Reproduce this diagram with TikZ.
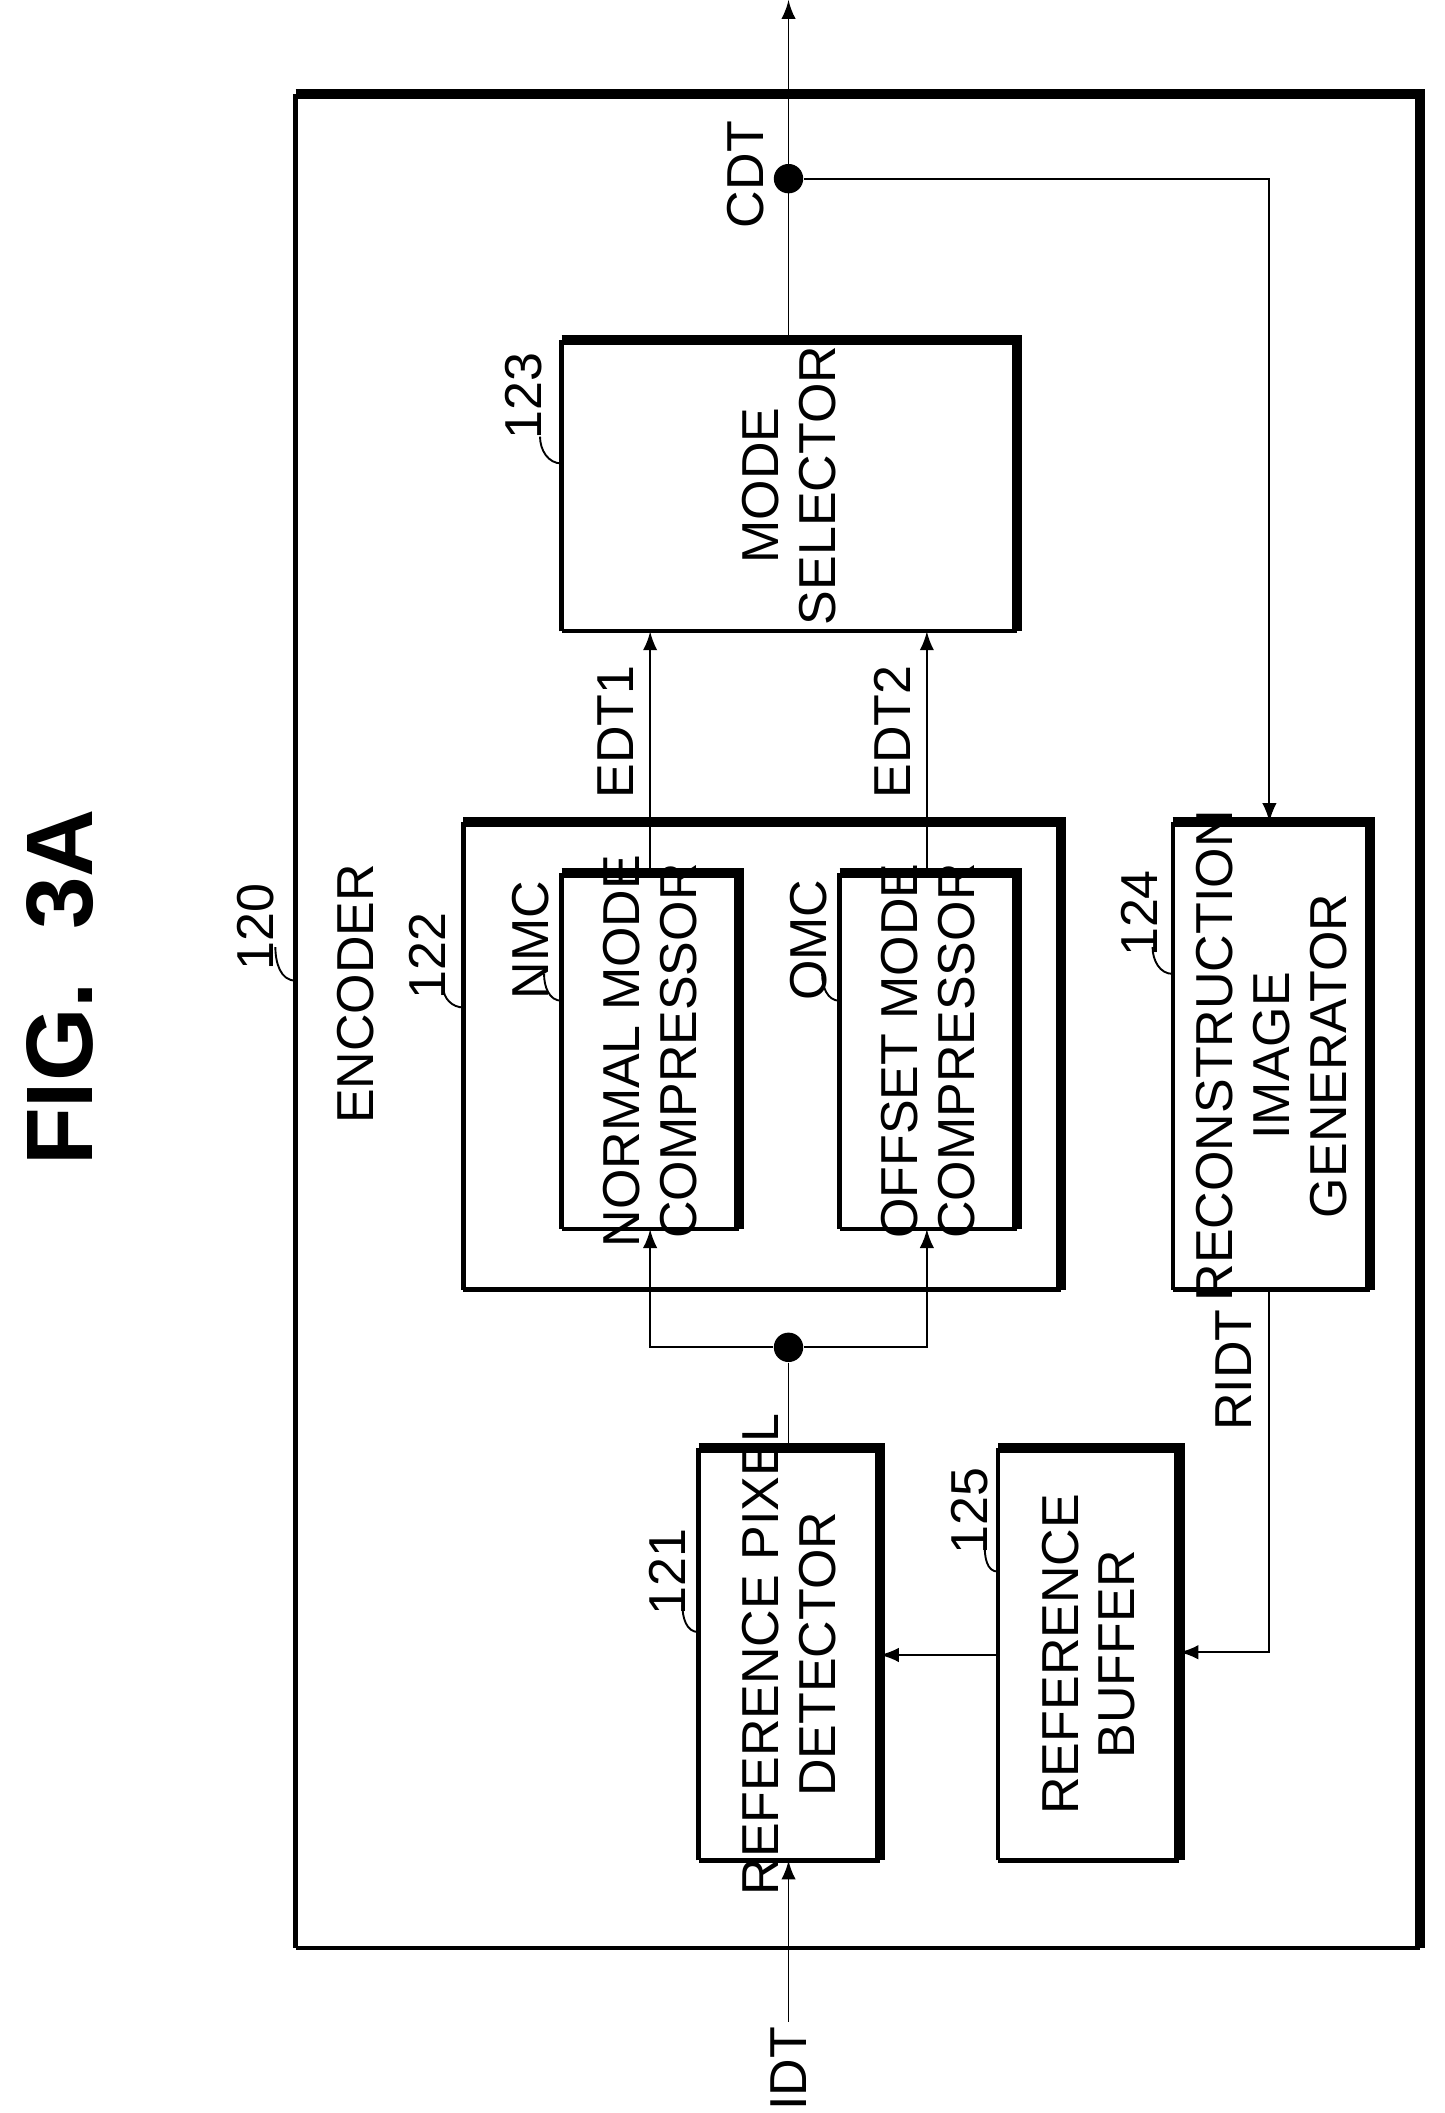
\documentclass[tikz,border=0pt]{standalone}
\usepackage{fontspec}
\setmainfont{Liberation Sans}
\usepackage{tikz}
\usetikzlibrary{arrows}
\begin{document}
\begin{tikzpicture}[x=0.01cm,y=-0.01cm,>=latex,
  lbl/.style={rotate=90,font=\fontsize{11}{12}\selectfont},
  dot/.style={circle,fill,inner sep=2.2pt}]
\useasboundingbox (0,0) rectangle (1075,1573);
%\draw[step=100,red,thin] (0,0) grid (1075,1573);
\node[rotate=90,font=\fontsize{20}{22}\selectfont\bfseries\rmfamily] (fig) at (45,735) {FIG.~~3A};

% outer encoder box
\draw[line width=0.9pt] (220,1450) -- (220,70);
\draw[line width=0.9pt] (220,1450) -- (1057,1450);
\draw[line width=2.2pt] (220,70) -- (1057,70) -- (1057,1450);
\node[lbl] (enc) at (265,740) {ENCODER};

% blocks
\foreach \n/\xa/\ya/\xb/\yb in {grp/345/612/790/960,nmc/418/650/550/915,omc/625/650/757/915,
  sel/418/253/757/470,rec/873/612/1020/960,rpd/520/1078/655/1385,buf/743/1078/878/1385}{
  \draw[line width=0.9pt] (\xa,\yb) -- (\xa,\ya) (\xa,\yb) -- (\xb,\yb);
  \draw[line width=2.2pt] (\xa,\ya) -- (\xb,\ya) -- (\xb,\yb);
  \coordinate (\n) at ({(\xa+\xb)/2},{(\ya+\yb)/2});
}
\node[lbl,align=center] (tnmc) at (nmc) {NORMAL MODE\\COMPRESSOR};
\node[lbl,align=center] (tomc) at (omc) {OFFSET MODE\\COMPRESSOR};
\node[lbl,align=center] (tsel) at (sel) {MODE\\SELECTOR};
\node[lbl,align=center] (trec) at (rec) {RECONSTRUCTION\\IMAGE\\GENERATOR};
\node[lbl,align=center] (trpd) at (rpd) {REFERENCE PIXEL\\DETECTOR};
\node[lbl,align=center] (tbuf) at (buf) {REFERENCE\\BUFFER};

% reference numerals
\node[lbl] (n120) at (190,690) {120};
\draw (205,705) to[out=-90,in=180] (220,730);
\node[lbl] (n122) at (318,712) {122};
\draw (330,735) to[out=-90,in=180] (345,750);
\node[lbl] (n123) at (390,295) {123};
\draw (402,325) to[out=-90,in=180] (418,345);
\node[lbl] (n124) at (848,680) {124};
\draw (858,705) to[out=-90,in=180] (873,725);
\node[lbl] (n121) at (497,1170) {121};
\draw (508,1195) to[out=-90,in=180] (520,1215);
\node[lbl] (n125) at (722,1125) {125};
\draw (733,1150) to[out=-90,in=180] (743,1170);
\node[lbl] (lnmc) at (395,700) {NMC};
\draw (405,725) to[out=-90,in=180] (418,745);
\node[lbl] (lomc) at (602,700) {OMC};
\draw (612,725) to[out=-90,in=180] (625,745);

% signals
\coordinate (idt) at (587,1505);
\node[lbl] (lidt) at (587,1540) {IDT};
\draw[->] (idt) -- (587,1385);
\coordinate (out) at (587,0);
\node[dot] (dcdt) at (587,133) {};
\draw[->] (587,253) -- (out);
\node[lbl] (lcdt) at (555,130) {CDT};
\draw[->] (dcdt) -- (945,133) -- (945,612);
\node[dot] (dsplit) at (587,1003) {};
\draw (587,1078) -- (dsplit);
\draw[->] (dsplit) -- (484,1003) -- (484,915);
\draw[->] (dsplit) -- (690,1003) -- (690,915);
\draw[->] (484,650) -- (484,470);
\draw[->] (690,650) -- (690,470);
\node[lbl] (ledt1) at (458,545) {EDT1};
\node[lbl] (ledt2) at (664,545) {EDT2};
\draw[->] (945,960) -- (945,1230) -- (878,1230);
\node[lbl] (lridt) at (918,1020) {RIDT};
\draw[->] (743,1232) -- (655,1232);
\end{tikzpicture}
\end{document}
